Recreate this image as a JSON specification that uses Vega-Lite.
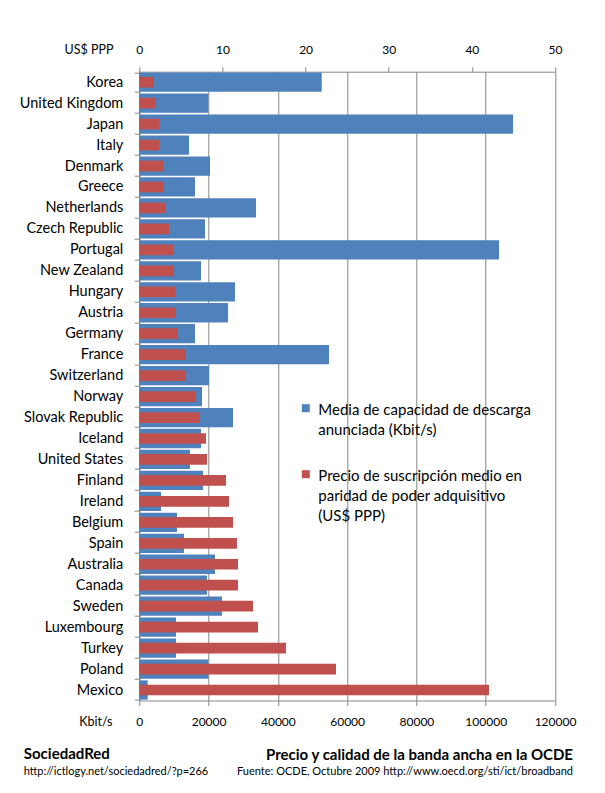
{
  "$schema": "https://vega.github.io/schema/vega-lite/v6.json",
  "width": 415.7,
  "height": 628.8,
  "autosize": "none",
  "padding": {"left": 139.3, "top": 71.7, "right": 50, "bottom": 92.5},
  "background": "white",
  "config": {
    "font": "Lato",
    "view": {"stroke": null},
    "axis": {"labelColor": "#000000", "titleColor": "#000000", "domainColor": "#868686", "tickColor": "#868686", "gridColor": "#868686", "gridOpacity": 1, "domainWidth": 1, "tickWidth": 1}
  },
  "title": {
    "text": "Precio y calidad de la banda ancha en la OCDE",
    "subtitle": "Fuente: OCDE, Octubre  2009 http://www.oecd.org/sti/ict/broadband",
    "orient": "bottom",
    "anchor": "end",
    "frame": "group",
    "dx": 18,
    "offset": -28,
    "fontSize": 15,
    "fontWeight": "bold",
    "color": "#000000",
    "subtitleFontSize": 11,
    "subtitleColor": "#000000",
    "subtitlePadding": 3
  },
  "data": {
    "values": [
      {"country": "Korea", "kbps": 52660, "price": 1.77},
      {"country": "United Kingdom", "kbps": 19920, "price": 2.01},
      {"country": "Japan", "kbps": 107890, "price": 2.37},
      {"country": "Italy", "kbps": 14350, "price": 2.37},
      {"country": "Denmark", "kbps": 20410, "price": 2.89},
      {"country": "Greece", "kbps": 16080, "price": 2.97},
      {"country": "Netherlands", "kbps": 33690, "price": 3.13},
      {"country": "Czech Republic", "kbps": 18970, "price": 3.61},
      {"country": "Portugal", "kbps": 103850, "price": 4.17},
      {"country": "New Zealand", "kbps": 17810, "price": 4.17},
      {"country": "Hungary", "kbps": 27630, "price": 4.33},
      {"country": "Austria", "kbps": 25610, "price": 4.41},
      {"country": "Germany", "kbps": 16080, "price": 4.65},
      {"country": "France", "kbps": 54770, "price": 5.62},
      {"country": "Switzerland", "kbps": 20120, "price": 5.62},
      {"country": "Norway", "kbps": 18100, "price": 6.82},
      {"country": "Slovak Republic", "kbps": 27050, "price": 7.22},
      {"country": "Iceland", "kbps": 17810, "price": 8.02},
      {"country": "United States", "kbps": 14640, "price": 8.14},
      {"country": "Finland", "kbps": 18390, "price": 10.43},
      {"country": "Ireland", "kbps": 6260, "price": 10.79},
      {"country": "Belgium", "kbps": 10880, "price": 11.27},
      {"country": "Spain", "kbps": 12900, "price": 11.75},
      {"country": "Australia", "kbps": 21850, "price": 11.87},
      {"country": "Canada", "kbps": 19540, "price": 11.87},
      {"country": "Sweden", "kbps": 23880, "price": 13.68},
      {"country": "Luxembourg", "kbps": 10600, "price": 14.28},
      {"country": "Turkey", "kbps": 10600, "price": 17.64},
      {"country": "Poland", "kbps": 19920, "price": 23.66},
      {"country": "Mexico", "kbps": 2420, "price": 42.06}
    ]
  },
  "layer": [
    {
      "mark": {"type": "bar"},
      "encoding": {
        "y": {
          "field": "country", "type": "nominal", "sort": null,
          "scale": {"paddingInner": 0.08, "paddingOuter": 0.04},
          "axis": {
            "orient": "left", "tickBand": "extent", "tickSize": 5, "labelPadding": 11.5,
            "labelFontSize": 14.5, "grid": false,
            "title": "SociedadRed", "titleAngle": 0, "titleAlign": "left", "titleBaseline": "middle",
            "titleX": -116, "titleY": 681.6, "titleFontSize": 15, "titleFontWeight": "bold"
          }
        },
        "x": {
          "field": "kbps", "type": "quantitative",
          "scale": {"domain": [0, 120000], "nice": false},
          "axis": {
            "orient": "bottom", "values": [0, 20000, 40000, 60000, 80000, 100000, 120000], "format": "d",
            "labelFlush": false, "labelOverlap": false,
            "grid": true, "tickSize": 5, "labelPadding": 16, "labelBaseline": "middle", "labelFontSize": 12,
            "title": "Kbit/s", "titleX": -27.3, "titleY": 21.2, "titleAlign": "right", "titleBaseline": "middle",
            "titleFontSize": 12.5, "titleFontWeight": "normal"
          }
        },
        "color": {
          "datum": "Media de capacidad de descarga|anunciada (Kbit/s)",
          "type": "nominal",
          "scale": {
            "domain": ["Media de capacidad de descarga|anunciada (Kbit/s)", "Precio de suscripción medio en|paridad de poder  adquisitivo|(US$ PPP)"],
            "range": ["#4F81BD", "#C0504D"]
          },
          "legend": {
            "orient": "none", "legendX": 159, "legendY": 329, "title": null, "padding": 0,
            "symbolType": "square", "symbolSize": 64, "symbolStrokeWidth": 0,
            "labelFontSize": 15, "labelLimit": 400, "labelOffset": 5, "labelBaseline": "top",
            "labelExpr": "split(datum.label, '|')", "rowPadding": 28, "labelColor": "#000000",
            "encode": {"labels": {"update": {"lineHeight": {"value": 20}, "dy": {"value": -5}}}}
          }
        }
      }
    },
    {
      "mark": {"type": "bar", "size": 10.7},
      "encoding": {
        "y": {
          "field": "country", "type": "nominal", "sort": null,
          "axis": {
            "orient": "right", "domain": false, "ticks": false, "labels": false, "grid": false,
            "title": "http://ictlogy.net/sociedadred/?p=266", "titleAngle": 0, "titleAlign": "left", "titleBaseline": "middle",
            "titleX": -531.7, "titleY": 699.3, "titleFontSize": 11, "titleFontWeight": "normal"
          }
        },
        "x": {
          "field": "price", "type": "quantitative",
          "scale": {"domain": [0, 50], "nice": false},
          "axis": {
            "orient": "top", "values": [0, 10, 20, 30, 40, 50], "grid": false,
            "labelFlush": false, "labelOverlap": false,
            "tickSize": 5, "labelPadding": 17.4, "labelBaseline": "middle", "labelFontSize": 12,
            "title": "US$ PPP", "titleX": -26.3, "titleY": -22.4, "titleAlign": "right", "titleBaseline": "middle",
            "titleFontSize": 12.5, "titleFontWeight": "normal"
          }
        },
        "color": {"datum": "Precio de suscripción medio en|paridad de poder  adquisitivo|(US$ PPP)", "type": "nominal"}
      }
    }
  ],
  "resolve": {"scale": {"x": "independent"}, "axis": {"x": "independent", "y": "independent"}}
}
